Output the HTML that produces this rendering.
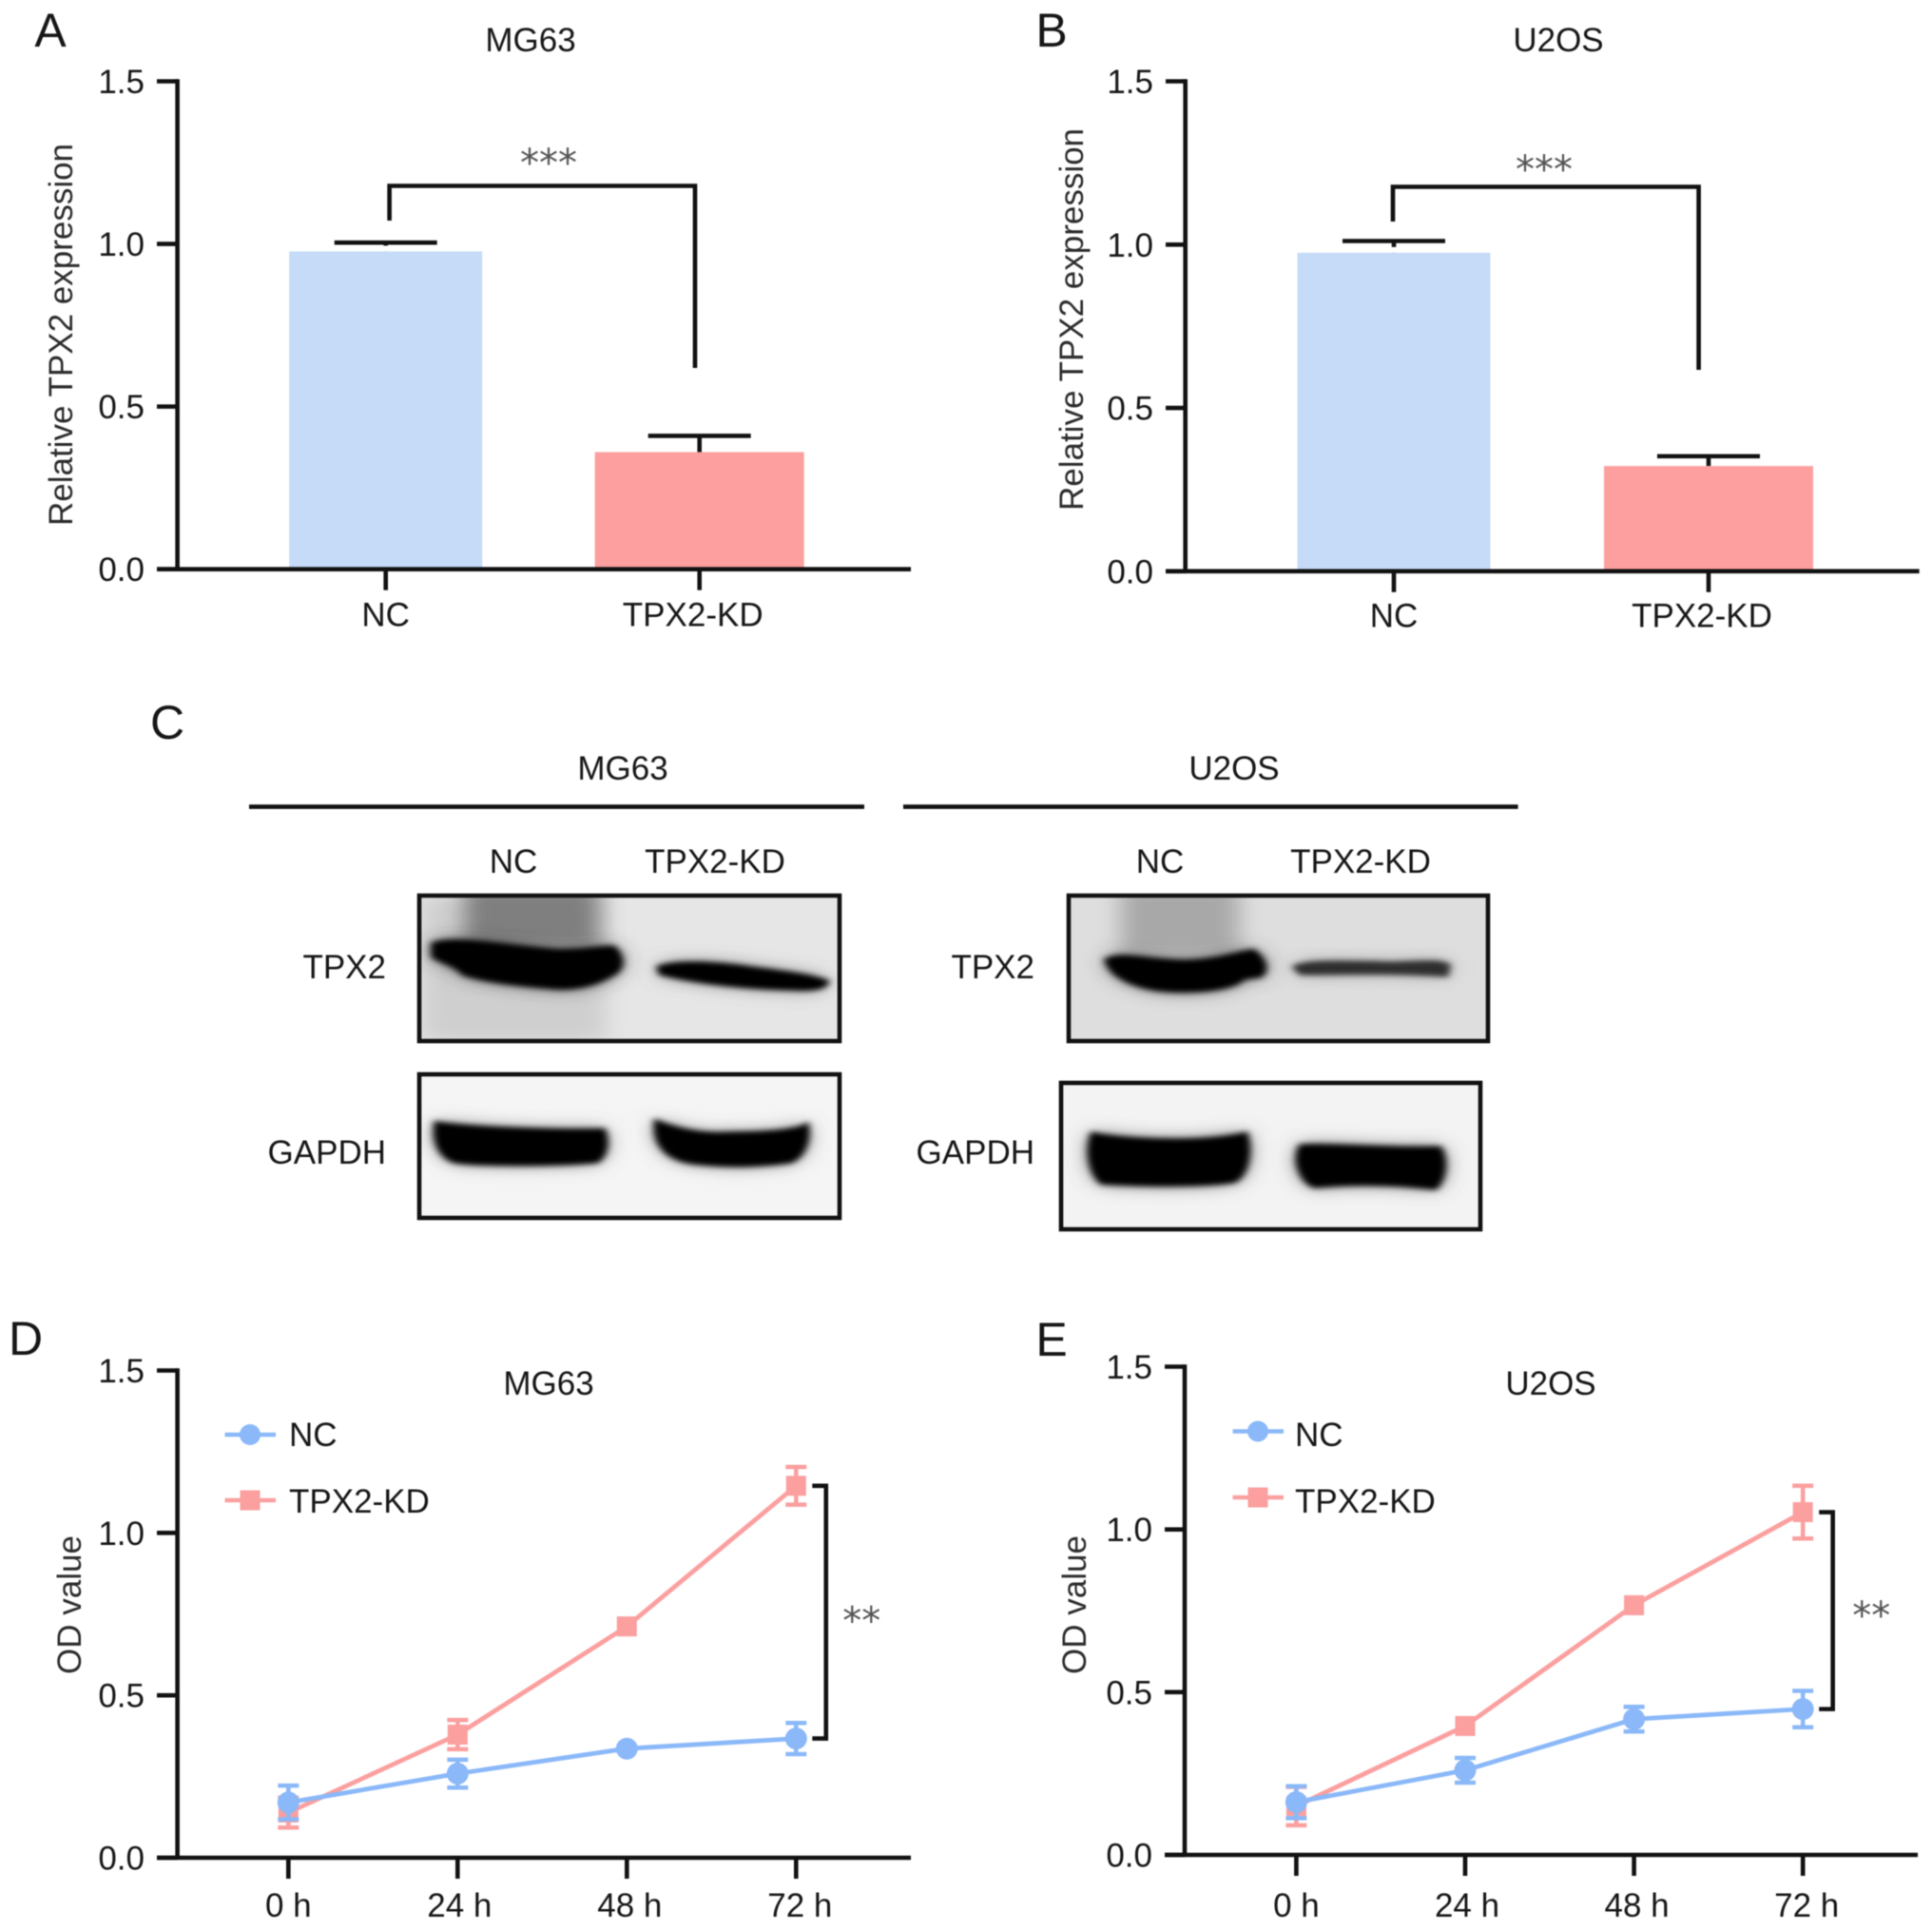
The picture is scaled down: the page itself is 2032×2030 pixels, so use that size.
<!DOCTYPE html>
<html lang="en">
<head>
<meta charset="utf-8">
<title>TPX2 knockdown figure</title>
<style>
  html, body { margin: 0; padding: 0; background: #fff; }
  #figure { display: block; filter: blur(0.6px); }
  text { font-family: "Liberation Sans", sans-serif; fill: #161616; font-size: 35px; }
  .panel-letter { font-size: 50px; }
  .axis-title { fill: #2c2c2c; }
  .stars { font-family: "DejaVu Sans", sans-serif; font-size: 40px; fill: #555; text-anchor: middle; }
  .mid { text-anchor: middle; }
  .end { text-anchor: end; }
  .ink { fill: none; stroke: #111; stroke-width: 4.6; }
</style>
</head>
<body>
<svg id="figure" xmlns="http://www.w3.org/2000/svg" width="2032" height="2030" viewBox="0 0 2032 2030">
  <defs>
    <filter id="blur-hard" x="-20%" y="-60%" width="140%" height="220%"><feGaussianBlur stdDeviation="8"/></filter>
    <filter id="blur-soft" x="-50%" y="-100%" width="200%" height="300%"><feGaussianBlur stdDeviation="24"/></filter>
    <clipPath id="clip-mg63-tpx2"><rect x="441" y="942" width="442" height="153"/></clipPath>
    <clipPath id="clip-mg63-gapdh"><rect x="441" y="1130" width="442" height="151"/></clipPath>
    <clipPath id="clip-u2os-tpx2"><rect x="1124" y="942" width="441" height="153"/></clipPath>
    <clipPath id="clip-u2os-gapdh"><rect x="1116" y="1139" width="441" height="154"/></clipPath>
  </defs>
  <rect width="2032" height="2030" fill="#fff"/>

  <!-- Panel letters and titles -->
  <text class="panel-letter mid" x="53" y="49">A</text>
  <text class="panel-letter mid" x="1106" y="49">B</text>
  <text class="panel-letter mid" x="176" y="777">C</text>
  <text class="panel-letter mid" x="27" y="1425">D</text>
  <text class="panel-letter mid" x="1106" y="1426">E</text>

  <text class="mid" x="558" y="54">MG63</text>
  <text class="mid" x="1639" y="54">U2OS</text>
  <text class="mid" x="577" y="1467">MG63</text>
  <text class="mid" x="1631" y="1467">U2OS</text>

  <text class="mid axis-title" transform="translate(76 352) rotate(-90)">Relative TPX2 expression</text>
  <text class="mid axis-title" transform="translate(1139 336) rotate(-90)">Relative TPX2 expression</text>
  <text class="mid axis-title" transform="translate(85 1688) rotate(-90)">OD value</text>
  <text class="mid axis-title" transform="translate(1142 1688) rotate(-90)">OD value</text>

  <!-- Significance brackets for bar charts -->
  <path class="ink" d="M409.6 232V195.5H731V387"/>
  <text class="stars" x="577" y="185">***</text>
  <path class="ink" d="M1465 233V196.5H1786.6V389"/>
  <text class="stars" x="1624" y="192">***</text>

  <!-- Panel C: western blots -->
  <text class="mid" x="655" y="820">MG63</text>
  <line x1="262" x2="909" y1="848.6" y2="848.6" stroke="#111" stroke-width="4.6"/>
  <text class="mid" x="540" y="918">NC</text>
  <text class="mid" x="752" y="918">TPX2-KD</text>
  <text class="end" x="406" y="1029">TPX2</text>
  <text class="end" x="406" y="1224">GAPDH</text>

  <text class="mid" x="1298" y="820">U2OS</text>
  <line x1="950" x2="1596.6" y1="848.6" y2="848.6" stroke="#111" stroke-width="4.6"/>
  <text class="mid" x="1220" y="918">NC</text>
  <text class="mid" x="1431" y="918">TPX2-KD</text>
  <text class="end" x="1088" y="1029">TPX2</text>
  <text class="end" x="1088" y="1224">GAPDH</text>

  <!-- MG63 TPX2 blot -->
  <g clip-path="url(#clip-mg63-tpx2)">
    <rect x="441" y="942" width="442" height="153" fill="#e6e6e6"/>
    <g transform="translate(140 720) scale(.4975 .376)">
      <rect x="610" y="590" width="390" height="410" fill="#cfcfcf" filter="url(#blur-soft)"/>
      <path d="M700 560H985V740H700Z" fill="#7f7f7f" filter="url(#blur-soft)"/>
      <path d="M635 725C680 705 800 735 900 745C960 745 990 735 1015 735C1035 760 1035 790 1020 805C990 830 950 850 900 848C820 840 750 830 700 810C680 780 640 770 635 760Z" fill="#3a3a3a" filter="url(#blur-soft)"/>
      <path d="M1110 790C1150 770 1250 780 1320 795C1380 805 1440 815 1468 830C1465 850 1440 855 1400 852C1300 850 1200 835 1115 810Z" fill="#777" filter="url(#blur-soft)"/>
      <path d="M635 725C680 705 800 735 900 745C960 745 990 735 1015 735C1035 760 1035 790 1020 805C990 830 950 850 900 848C820 840 750 830 700 810C680 780 640 770 635 760Z" fill="#000" stroke="#000" stroke-width="10" filter="url(#blur-hard)"/>
      <path d="M1110 790C1150 770 1250 780 1320 795C1380 805 1440 815 1468 830C1465 850 1440 855 1400 852C1300 850 1200 835 1115 810Z" fill="#000" stroke="#000" stroke-width="8" filter="url(#blur-hard)"/>
    </g>
  </g>
  <rect class="ink" x="441" y="942" width="442" height="153"/>

  <!-- MG63 GAPDH blot -->
  <g clip-path="url(#clip-mg63-gapdh)">
    <rect x="441" y="1130" width="442" height="151" fill="#f5f5f5"/>
    <g transform="translate(140 720) scale(.4975 .376)">
      <path d="M640 1225C700 1240 900 1250 995 1245C1005 1280 1000 1320 980 1335C880 1345 740 1345 680 1335C645 1320 635 1270 640 1225Z" fill="#777" filter="url(#blur-soft)"/>
      <path d="M1105 1220C1150 1245 1200 1260 1260 1255C1330 1255 1400 1250 1425 1230C1430 1270 1420 1320 1390 1335C1330 1345 1270 1350 1200 1340C1130 1335 1100 1290 1105 1220Z" fill="#777" filter="url(#blur-soft)"/>
      <path d="M640 1225C700 1240 900 1250 995 1245C1005 1280 1000 1320 980 1335C880 1345 740 1345 680 1335C645 1320 635 1270 640 1225Z" fill="#000" stroke="#000" stroke-width="8" filter="url(#blur-hard)"/>
      <path d="M1105 1220C1150 1245 1200 1260 1260 1255C1330 1255 1400 1250 1425 1230C1430 1270 1420 1320 1390 1335C1330 1345 1270 1350 1200 1340C1130 1335 1100 1290 1105 1220Z" fill="#000" stroke="#000" stroke-width="8" filter="url(#blur-hard)"/>
    </g>
  </g>
  <rect class="ink" x="441" y="1130" width="442" height="151"/>

  <!-- U2OS TPX2 blot -->
  <g clip-path="url(#clip-u2os-tpx2)">
    <rect x="1124" y="942" width="441" height="153" fill="#dedede"/>
    <g transform="translate(920 720) scale(.4975 .376)">
      <path d="M520 560H770V760H520Z" fill="#a8a8a8" filter="url(#blur-soft)"/>
      <path d="M490 770C520 750 560 770 650 775C720 775 770 750 800 745C825 770 830 800 815 815L780 820C760 850 690 860 620 855C560 850 500 820 490 770Z" fill="#444" filter="url(#blur-soft)"/>
      <path d="M885 790C905 770 1000 775 1100 778C1160 775 1200 770 1215 785L1210 815C1100 805 1000 810 900 810Z" fill="#999" filter="url(#blur-soft)"/>
      <path d="M490 770C520 750 560 770 650 775C720 775 770 750 800 745C825 770 830 800 815 815L780 820C760 850 690 860 620 855C560 850 500 820 490 770Z" fill="#000" stroke="#000" stroke-width="10" filter="url(#blur-hard)"/>
      <path d="M885 790C905 770 1000 775 1100 778C1160 775 1200 770 1215 785L1210 815C1100 805 1000 810 900 810Z" fill="#2f2f2f" stroke="#2f2f2f" stroke-width="6" filter="url(#blur-hard)"/>
    </g>
  </g>
  <rect class="ink" x="1124" y="942" width="441" height="153"/>

  <!-- U2OS GAPDH blot -->
  <g clip-path="url(#clip-u2os-gapdh)">
    <rect x="1116" y="1139" width="441" height="154" fill="#f3f3f3"/>
    <g transform="translate(920 720) scale(.4975 .376)">
      <path d="M460 1255C520 1275 700 1285 785 1255C795 1300 790 1370 760 1390C680 1405 560 1400 480 1395C450 1360 450 1290 460 1255Z" fill="#666" filter="url(#blur-soft)"/>
      <path d="M900 1290C950 1285 1100 1300 1195 1295C1210 1330 1205 1385 1185 1410C1100 1395 1000 1395 930 1405C900 1390 885 1330 900 1290Z" fill="#666" filter="url(#blur-soft)"/>
      <path d="M460 1255C520 1275 700 1285 785 1255C795 1300 790 1370 760 1390C680 1405 560 1400 480 1395C450 1360 450 1290 460 1255Z" fill="#000" stroke="#000" stroke-width="8" filter="url(#blur-hard)"/>
      <path d="M900 1290C950 1285 1100 1300 1195 1295C1210 1330 1205 1385 1185 1410C1100 1395 1000 1395 930 1405C900 1390 885 1330 900 1290Z" fill="#000" stroke="#000" stroke-width="8" filter="url(#blur-hard)"/>
    </g>
  </g>
  <rect class="ink" x="1116" y="1139" width="441" height="154"/>

  <!-- Legends -->
  <g>
    <line x1="236.5" x2="290" y1="1509" y2="1509" stroke="#8ab8f8" stroke-width="4.6"/>
    <circle cx="263" cy="1509" r="11" fill="#8ab8f8"/>
    <text x="304" y="1521">NC</text>
    <line x1="236.5" x2="290" y1="1578" y2="1578" stroke="#fb9f9f" stroke-width="4.6"/>
    <rect x="252.5" y="1567.5" width="21" height="21" fill="#fb9f9f"/>
    <text x="304" y="1591">TPX2-KD</text>
  </g>
  <g>
    <line x1="1296.6" x2="1350" y1="1505.5" y2="1505.5" stroke="#8ab8f8" stroke-width="4.6"/>
    <circle cx="1323" cy="1505.5" r="11" fill="#8ab8f8"/>
    <text x="1362" y="1521">NC</text>
    <line x1="1296.6" x2="1350" y1="1575" y2="1575" stroke="#fb9f9f" stroke-width="4.6"/>
    <rect x="1312.5" y="1564.5" width="21" height="21" fill="#fb9f9f"/>
    <text x="1362" y="1591">TPX2-KD</text>
  </g>

  <g id="charts"></g>
</svg>

<script>
const yTickValues = [0, 0.5, 1, 1.5];
const yTickLabels = ['0.0', '0.5', '1.0', '1.5'];

const barCategories = ['NC', 'TPX2-KD'];
const barValuesMG63 = [0.977, 0.36];
const barErrorsMG63 = [0.027, 0.05];
const barValuesU2OS = [0.975, 0.322];
const barErrorsU2OS = [0.036, 0.03];

const timeLabels = ['0 h', '24 h', '48 h', '72 h'];
const ncMG63 = [0.17, 0.259, 0.336, 0.367];
const ncErrMG63 = [0.052, 0.043, 0, 0.048];
const kdMG63 = [0.139, 0.379, 0.712, 1.145];
const kdErrMG63 = [0.046, 0.045, 0, 0.058];
const ncU2OS = [0.162, 0.26, 0.417, 0.448];
const ncErrU2OS = [0.049, 0.038, 0.038, 0.056];
const kdU2OS = [0.15, 0.396, 0.767, 1.053];
const kdErrU2OS = [0.059, 0, 0, 0.081];

const SVG_NS = 'http://www.w3.org/2000/svg';
const BLUE = '#8ab8f8';
const PINK = '#fb9f9f';
const AXIS_WIDTH = 4.6;
const chartsRoot = document.getElementById('charts');

function make(parent, tag, attrs, content) {
  const el = document.createElementNS(SVG_NS, tag);
  Object.keys(attrs).forEach(function (k) { el.setAttribute(k, attrs[k]); });
  if (content !== undefined) el.textContent = content;
  parent.appendChild(el);
  return el;
}

function linearY(baseY, topY) {
  const maxValue = yTickValues[yTickValues.length - 1];
  return function (v) { return baseY - (v / maxValue) * (baseY - topY); };
}

function categoryX(firstX, step) {
  return function (i) { return firstX + i * step; };
}

function drawAxes(g, p, y, x, labels, labelShift) {
  const yAxis = make(g, 'line', { x1: p.axisX, x2: p.axisX, y1: p.topY - 2.3, y2: p.baseY, stroke: '#111', 'stroke-width': AXIS_WIDTH });
  
  
  const xAxis = make(g, 'line', { x1: p.tickLeft, x2: p.axisRight, y1: p.baseY, y2: p.baseY, stroke: '#111', 'stroke-width': AXIS_WIDTH });
  
  
  yTickValues.forEach(function (v, i) {
    const t = make(g, 'line', { x1: p.tickLeft, x2: p.axisX, y1: y(v), y2: y(v), stroke: '#111', 'stroke-width': AXIS_WIDTH });
    
    
    const l = make(g, 'text', { x: p.tickLeft - 13, y: y(v) + 12.5, 'text-anchor': 'end' }, yTickLabels[i]);
    
    
  });
  labels.forEach(function (name, i) {
    const t = make(g, 'line', { x1: x(i), x2: x(i), y1: p.baseY, y2: p.baseY + 22, stroke: '#111', 'stroke-width': AXIS_WIDTH });
    
    
    const l = make(g, 'text', { x: x(i) + labelShift[i], y: p.baseY + p.labelDy, 'text-anchor': 'middle' }, name);
    
    
  });
}

function drawBarChart(p, values, errors) {
  const g = make(chartsRoot, 'g', {});
  
  
  const y = linearY(p.baseY, p.topY);
  const x = categoryX(p.firstX, p.stepX);
  const fills = ['#c6dbf8', '#fc9f9e'];
  const widths = [203, 220];
  values.forEach(function (v, i) {
    const capY = y(v + errors[i]);
    const err = make(g, 'path', {
      d: 'M' + (x(i) - 54) + ' ' + capY + 'H' + (x(i) + 54) + 'M' + x(i) + ' ' + capY + 'V' + y(v),
      fill: 'none', stroke: '#111', 'stroke-width': AXIS_WIDTH
    });
    
    
    if (i === 0) {
      const halo = make(g, 'rect', { x: x(i) - widths[i] / 2, y: y(v) - 6, width: widths[i], height: 6, fill: '#fff' });
      
      
    }
    const bar = make(g, 'rect', { x: x(i) - widths[i] / 2, y: y(v), width: widths[i], height: y(0) - y(v) - 2, fill: fills[i] });
    
    
  });
  drawAxes(g, p, y, x, barCategories, [0, -7]);
}

function drawSeries(g, x, y, values, errors, color, isSquare) {
  const pts = values.map(function (v, i) { return x(i) + ',' + y(v); }).join(' ');
  const line = make(g, 'polyline', { points: pts, fill: 'none', stroke: color, 'stroke-width': 4.8 });
  
  
  values.forEach(function (v, i) {
    if (errors[i] > 0) {
      const t = y(v + errors[i]);
      const b = y(v - errors[i]);
      const err = make(g, 'path', {
        d: 'M' + (x(i) - 11) + ' ' + t + 'H' + (x(i) + 11) + 'M' + x(i) + ' ' + t + 'V' + b + 'M' + (x(i) - 11) + ' ' + b + 'H' + (x(i) + 11),
        fill: 'none', stroke: color, 'stroke-width': 4.5
      });
      
      
    }
    let m;
    if (isSquare) {
      m = make(g, 'rect', { x: x(i) - 10.5, y: y(v) - 10.5, width: 21, height: 21, fill: color });
    } else {
      m = make(g, 'circle', { cx: x(i), cy: y(v), r: 11.5, fill: color });
    }
    
    
  });
}

function drawLineChart(p, nc, ncErr, kd, kdErr) {
  const g = make(chartsRoot, 'g', {});
  
  
  const y = linearY(p.baseY, p.topY);
  const x = categoryX(p.firstX, p.stepX);
  drawSeries(g, x, y, kd, kdErr, PINK, true);
  drawSeries(g, x, y, nc, ncErr, BLUE, false);
  drawAxes(g, p, y, x, timeLabels, [0, 2, 3, 4]);
  const last = nc.length - 1;
  const bx = x(last) + 17;
  const bracket = make(g, 'path', {
    d: 'M' + bx + ' ' + y(kd[last]) + 'H' + (bx + 14.5) + 'V' + y(nc[last]) + 'H' + bx,
    fill: 'none', stroke: '#111', 'stroke-width': AXIS_WIDTH
  });
  
  
  const stars = make(g, 'text', { x: bx + p.starDx, y: (y(kd[last]) + y(nc[last])) / 2 + p.starDy, 'class': 'stars' }, '**');
  
  
}

drawBarChart({ axisX: 186.6, tickLeft: 165, axisRight: 958, baseY: 598.7, topY: 85.5, firstX: 405.7, stepX: 330, labelDy: 60 }, barValuesMG63, barErrorsMG63);
drawBarChart({ axisX: 1246.7, tickLeft: 1226, axisRight: 2018.6, baseY: 600.8, topY: 85.5, firstX: 1466, stepX: 331, labelDy: 58.5 }, barValuesU2OS, barErrorsU2OS);
drawLineChart({ axisX: 186.6, tickLeft: 165, axisRight: 958, baseY: 1954, topY: 1441.5, firstX: 303.3, stepX: 178, starDx: 52, starDy: 23, labelDy: 62 }, ncMG63, ncErrMG63, kdMG63, kdErrMG63);
drawLineChart({ axisX: 1246, tickLeft: 1225, axisRight: 2017, baseY: 1951, topY: 1437.5, firstX: 1363.4, stepX: 177.6, starDx: 55, starDy: 19, labelDy: 65 }, ncU2OS, ncErrU2OS, kdU2OS, kdErrU2OS);
</script>
</body>
</html>
